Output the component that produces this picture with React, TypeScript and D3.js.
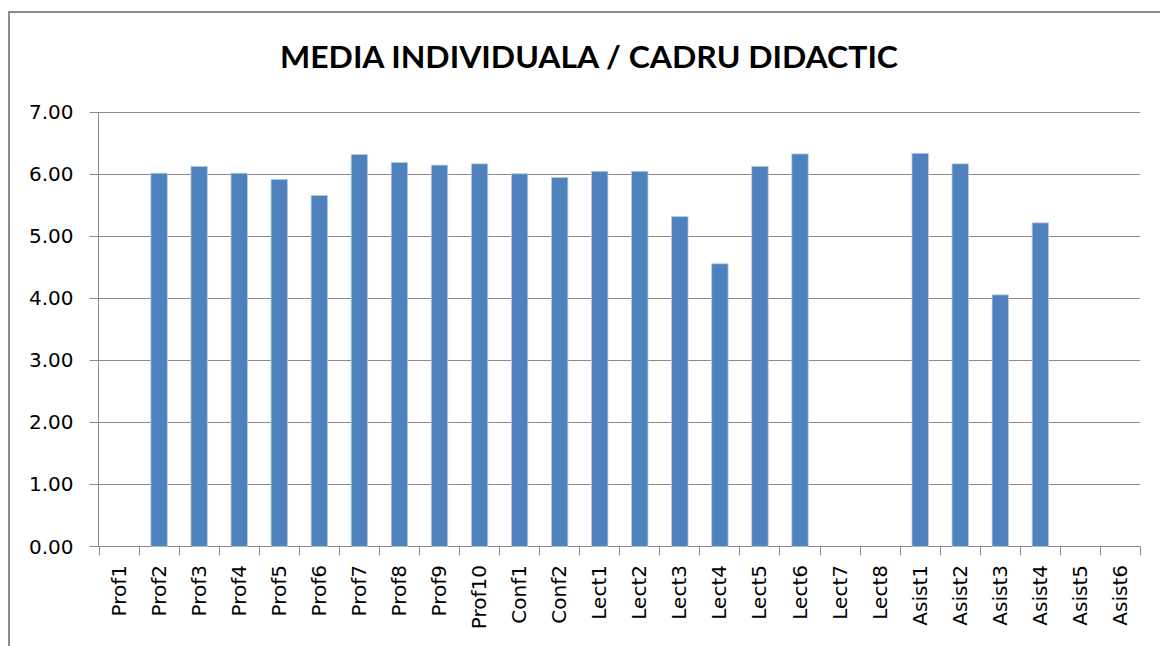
import React from "react";
import * as d3 from "d3";

const categories = [
  "Prof1", "Prof2", "Prof3", "Prof4", "Prof5", "Prof6", "Prof7", "Prof8", "Prof9", "Prof10",
  "Conf1", "Conf2", "Lect1", "Lect2", "Lect3", "Lect4", "Lect5", "Lect6", "Lect7", "Lect8",
  "Asist1", "Asist2", "Asist3", "Asist4", "Asist5", "Asist6",
];
const values: (number | null)[] = [
  null, 6.01, 6.12, 6.01, 5.91, 5.65, 6.31, 6.18, 6.14, 6.16,
  6.0, 5.94, 6.04, 6.04, 5.31, 4.55, 6.12, 6.32, null, null,
  6.33, 6.16, 4.05, 5.21, null, null,
];
const yTicks = [0, 1, 2, 3, 4, 5, 6, 7];
const title = "MEDIA INDIVIDUALA / CADRU DIDACTIC";

export default function App() {
  const W = 1160, H = 646;
  const left = 98.5, right = 1140, top = 111.7, bottom = 546.3;
  const x = d3.scaleBand<string>().domain(categories).range([left, right]).padding(0);
  const y = d3.scaleLinear().domain([0, 7]).range([bottom, top]);
  const bw = x.bandwidth() * 0.41;
  const grid = "#8a8a8a";
  const font = "'DejaVu Sans', sans-serif";
  return (
    <svg width={W} height={H} style={{ position: "absolute", left: 0, top: 0, background: "#fff" }}>
      <rect x={0} y={0} width={W} height={H} fill="#fff" />
      <rect x={9} y={12} width={W + 20} height={H + 20} fill="none" stroke="#8c8c8c" strokeWidth={2} />
      <text
        x={589}
        y={68}
        textAnchor="middle"
        fontFamily="Lato, 'Liberation Sans', Arial, sans-serif"
        fontWeight="bold"
        fontSize={31}
        textLength={618}
        lengthAdjust="spacingAndGlyphs"
        fill="#000"
      >
        {title}
      </text>
      {yTicks.map((t) => (
        <g key={t}>
          <line x1={left} x2={right} y1={Math.round(y(t)) + 0.5} y2={Math.round(y(t)) + 0.5} stroke={grid} strokeWidth={1} />
          <line x1={left - 9} x2={left} y1={Math.round(y(t)) + 0.5} y2={Math.round(y(t)) + 0.5} stroke={grid} strokeWidth={1} />
          <text x={73.5} y={y(t)} dy="0.36em" textAnchor="end" fontFamily={font} fontSize={20} fill="#000">
            {t.toFixed(2)}
          </text>
        </g>
      ))}
      <line x1={left} x2={left} y1={top} y2={bottom} stroke={grid} strokeWidth={1} />
      {values.map((v, i) =>
        v == null ? null : (
          <rect
            key={categories[i]}
            x={(x(categories[i]) as number) + x.bandwidth() / 2 - bw / 2 + 0.5}
            y={y(v)}
            width={bw}
            height={y(0) - y(v)}
            fill="#4F81BD"
            stroke="#b9cde5"
            strokeWidth={0.8}
          />
        )
      )}
      {[...categories.map((c) => x(c) as number), right].map((px, i) => (
        <line key={"t" + i} x1={Math.round(px) + 0.5} x2={Math.round(px) + 0.5} y1={bottom} y2={bottom + 9} stroke={grid} strokeWidth={1} />
      ))}
      {categories.map((c) => {
        const cx = (x(c) as number) + x.bandwidth() / 2;
        return (
          <text
            key={c}
            transform={`translate(${cx},565) rotate(-90)`}
            dy="0.35em"
            textAnchor="end"
            fontFamily={font}
            fontSize={20}
            fill="#000"
          >
            {c}
          </text>
        );
      })}
    </svg>
  );
}
